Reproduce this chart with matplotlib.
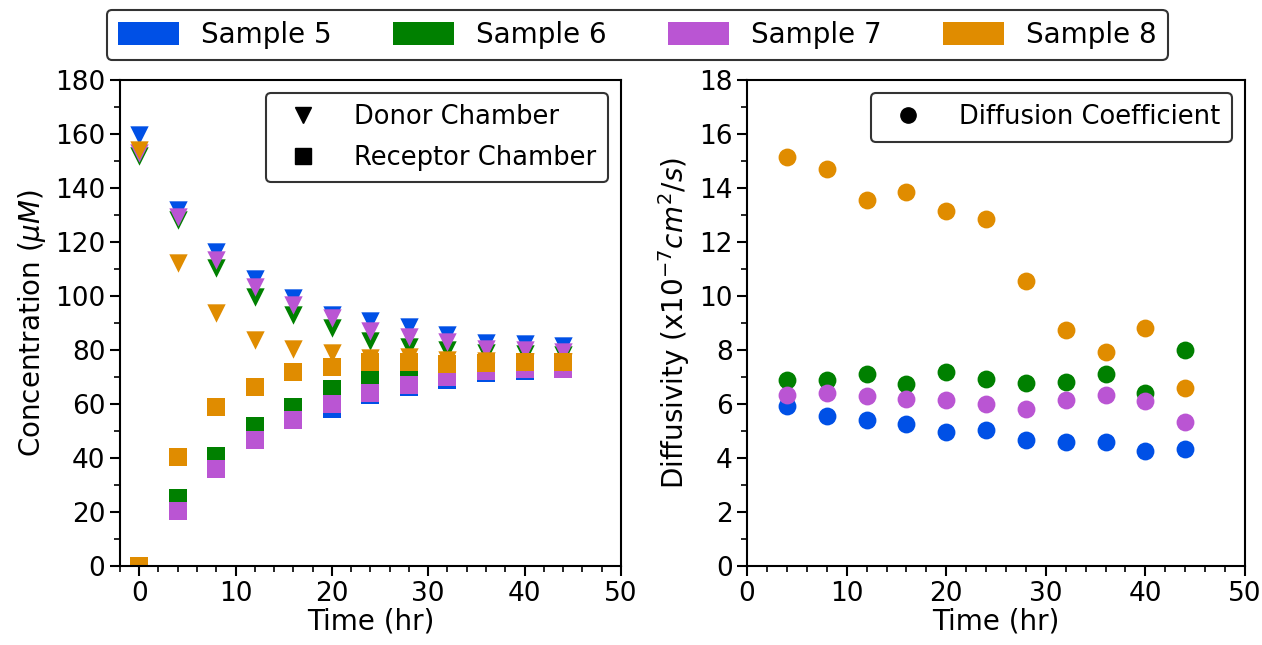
import matplotlib
matplotlib.use("Agg")
import matplotlib.pyplot as plt
from matplotlib.patches import Patch
from matplotlib.lines import Line2D
from matplotlib.ticker import MultipleLocator

samples = ["Sample 5", "Sample 6", "Sample 7", "Sample 8"]
colors = ["#0050E6", "#008000", "#BA55D3", "#E08C00"]

time_conc = [0, 4, 8, 12, 16, 20, 24, 28, 32, 36, 40, 44]
time_diff = [4, 8, 12, 16, 20, 24, 28, 32, 36, 40, 44]

donor = [
    [159.5, 131.8, 116.4, 106.2, 99.4, 92.8, 90.7, 88.5, 85.4, 82.6, 82.4, 81.4],
    [152.0, 128.1, 110.2, 99.7, 92.8, 88.0, 83.5, 81.2, 80.0, 79.0, 78.5, 78.0],
    [153.0, 129.4, 113.3, 103.5, 96.7, 91.9, 87.0, 84.8, 82.8, 80.4, 80.0, 79.4],
    [154.0, 112.1, 93.6, 83.7, 80.2, 78.8, 77.0, 77.3, 76.3, 75.8, 75.5, 75.5],
]
receptor = [
    [0, 23.0, 37.0, 48.0, 55.0, 58.0, 63.5, 66.3, 69.0, 71.4, 72.1, 73.0],
    [0, 25.0, 40.9, 52.0, 59.0, 65.4, 68.9, 70.7, 72.5, 73.5, 74.0, 74.5],
    [0, 20.5, 35.9, 46.7, 54.1, 60.0, 64.0, 67.0, 70.0, 72.2, 73.1, 72.8],
    [0, 40.2, 58.8, 66.4, 71.7, 73.8, 75.7, 75.7, 74.8, 75.0, 75.7, 75.4],
]
diffusivity = [
    [5.91, 5.54, 5.39, 5.26, 4.96, 5.02, 4.67, 4.58, 4.59, 4.26, 4.32],
    [6.90, 6.90, 7.11, 6.73, 7.17, 6.93, 6.77, 6.81, 7.11, 6.41, 8.00],
    [6.33, 6.40, 6.28, 6.20, 6.15, 6.00, 5.83, 6.15, 6.32, 6.11, 5.35],
    [15.16, 14.72, 13.56, 13.84, 13.15, 12.85, 10.56, 8.75, 7.93, 8.81, 6.61],
]

plt.rcParams["font.size"] = 19
plt.rcParams["axes.linewidth"] = 1.5

fig = plt.figure(figsize=(12.62, 6.45), dpi=100)
ax1 = fig.add_axes([0.095, 0.1225, 0.397, 0.7535])
ax2 = fig.add_axes([0.592, 0.1225, 0.3945, 0.7535])

for i in range(4):
    ax1.scatter(time_conc, donor[i], marker="v", s=175, color=colors[i], linewidths=0)
    ax1.scatter(time_conc, receptor[i], marker="s", s=160, color=colors[i], linewidths=0)
    ax2.scatter(time_diff, diffusivity[i], marker="o", s=165, color=colors[i], linewidths=0)

ax1.set_xlim(-2, 50)
ax1.set_ylim(0, 180)
ax1.xaxis.set_major_locator(MultipleLocator(10))
ax1.xaxis.set_minor_locator(MultipleLocator(2))
ax1.yaxis.set_major_locator(MultipleLocator(20))
ax1.yaxis.set_minor_locator(MultipleLocator(10))
ax1.set_xlabel("Time (hr)", fontsize=20, labelpad=1)
ax1.set_ylabel(r"Concentration ($\mu M$)", fontsize=20, labelpad=5)

ax2.set_xlim(0, 50)
ax2.set_ylim(0, 18)
ax2.xaxis.set_major_locator(MultipleLocator(10))
ax2.xaxis.set_minor_locator(MultipleLocator(2))
ax2.yaxis.set_major_locator(MultipleLocator(2))
ax2.yaxis.set_minor_locator(MultipleLocator(1))
ax2.set_xlabel("Time (hr)", fontsize=20, labelpad=1)
ax2.set_ylabel(r"Diffusivity (x$10^{-7}cm^2/s$)", fontsize=20, labelpad=5)

for ax in (ax1, ax2):
    ax.tick_params(which="major", direction="out", length=7, width=1.5)
    ax.tick_params(which="minor", direction="out", length=4, width=1.2)

leg_kw = dict(frameon=True, edgecolor="#333333", fancybox=True, framealpha=1)

h1 = [Line2D([], [], ls="none", marker="v", color="black", markersize=12),
      Line2D([], [], ls="none", marker="s", color="black", markersize=11)]
l1 = ax1.legend(h1, ["Donor Chamber", "Receptor Chamber"], loc="upper right",
                fontsize=18.5, handletextpad=1.0, borderpad=0.45, labelspacing=0.55, **leg_kw)
l1.get_frame().set_linewidth(1.5)

h2 = [Line2D([], [], ls="none", marker="o", color="black", markersize=11)]
l2 = ax2.legend(h2, ["Diffusion Coefficient"], loc="upper right",
                fontsize=18.5, handletextpad=1.0, borderpad=0.45, **leg_kw)
l2.get_frame().set_linewidth(1.5)

patches = [Patch(facecolor=c, edgecolor="none") for c in colors]
lt = fig.legend(patches, samples, loc="upper center", bbox_to_anchor=(0.505, 1.0),
                ncol=4, fontsize=20, handlelength=2.2, handleheight=0.9, columnspacing=2.2,
                handletextpad=0.8, borderpad=0.4, borderaxespad=0.35, **leg_kw)
lt.get_frame().set_linewidth(1.5)

fig.savefig("out.png", dpi=100)
